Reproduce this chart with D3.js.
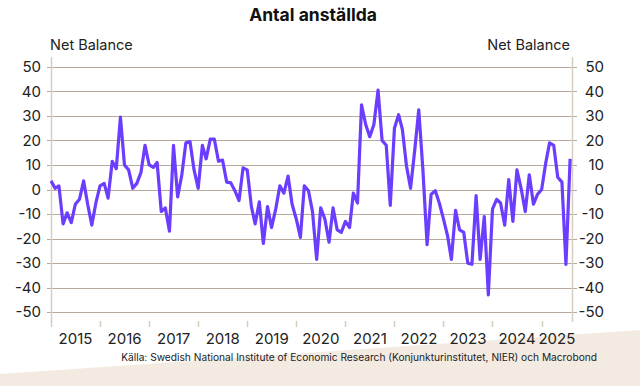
<!DOCTYPE html>
<html><head><meta charset="utf-8">
<script src="https://cdn.jsdelivr.net/npm/d3@7"></script>
<style>
html,body{margin:0;padding:0;background:#fff;}
svg{display:block;font-family:Inter,"Noto Sans",sans-serif;}
</style></head>
<body><svg id="c" width="640" height="386"></svg>
<script>
const title = "Antal anställda";
const yLabel = "Net Balance";
const source = "Källa: Swedish National Institute of Economic Research (Konjunkturinstitutet, NIER)  och Macrobond";
const startYear = 2015, startMonth = 0;
const values = [
  3.5, 0.5, 1.5, -14, -9.5, -13.5, -6, -4, 3.5, -6, -14.5, -5.5,
  1.5, 2.5, -3.5, 11.5, 8.5, 29.5, 10, 8, 0.5, 2.5, 7, 18,
  10, 9, 11, -9, -7.5, -17, 18, -3, 6, 19, 19.5, 8,
  0.5, 18, 12.5, 20.5, 20.5, 11.5, 12, 3, 2.7, -0.5, -4.5, 8.8,
  8, -7, -14, -5, -22, -7, -15.5, -8, 1.5, -1.5, 5.5, -6,
  -12, -19.5, 1.5, -0.5, -9, -28.5, -7.5, -12, -21.5, -7.5, -16.5, -17.5,
  -13, -15.5, -1.5, -5.5, 34.5, 26.5, 21.5, 26.5, 40.5, 20, 18, -6.5,
  25, 30.5, 24.5, 9.5, 0.5, 16, 32.5, 8, -22.5, -2, -0.5, -5.5,
  -12, -19, -28.5, -8.5, -16.5, -17.5, -30, -30.5, -2.5, -28.5, -11, -43,
  -8, -4, -5.5, -14.5, 4, -13, 8, 0.5, -9, 6, -6, -2,
  0, 11, 19, 18, 5, 3, -30.5, 12.5
];
const yTicks = [50, 40, 30, 20, 10, 0, -10, -20, -30, -40, -50];
const yearLabels = ["2015","2016","2017","2018","2019","2020","2021","2022","2023","2024","2025"];

const data = values.map((v,i)=>({date:new Date(startYear, startMonth+i, 1), value:v}));

const svg = d3.select("#c");
const L = 51, R = 572, T = 57, B = 322;
const x = d3.scaleTime().domain([new Date(2015,0,1), new Date(2025,7,15)]).range([L, R]);
const y = d3.scaleLinear().domain([-54, 54]).range([B, T]);

// background beige band
svg.append("polygon").attr("points", "0,374 640,330 640,386 0,386").attr("fill", "#f3ebe2");

// title
svg.append("text").attr("x", 313).attr("y", 21).attr("text-anchor","middle")
  .attr("font-size", 17.5).attr("font-weight", 700).attr("fill","#111").text(title);
svg.append("text").attr("x", 50).attr("y", 50).attr("font-size", 14.5).attr("fill","#222").text(yLabel);
svg.append("text").attr("x", 570).attr("y", 50).attr("text-anchor","end").attr("font-size", 14.5).attr("fill","#222").text(yLabel);

// gridlines
svg.append("g").selectAll("line").data(yTicks).join("line")
  .attr("x1", L-4).attr("x2", R+5)
  .attr("y1", d=>Math.round(y(d))+0.5).attr("y2", d=>Math.round(y(d))+0.5)
  .attr("stroke", "#b5aa9b").attr("stroke-width", 1.1);

// vertical axis lines
[L, R].forEach(px=>{
  svg.append("line").attr("x1", px+0.5).attr("x2", px+0.5).attr("y1", T).attr("y2", B)
    .attr("stroke", "#d6cdc1").attr("stroke-width", 1.5);
});

// y tick labels
const yl = svg.append("g").attr("font-size", 15).attr("fill", "#222");
yl.selectAll("text.l").data(yTicks).join("text").attr("class","l")
  .attr("x", 41).attr("y", d=>y(d)).attr("dy","0.35em").attr("text-anchor","end").text(d=>d);
yl.selectAll("text.r").data(yTicks).join("text").attr("class","r")
  .attr("x", 604).attr("y", d=>y(d)).attr("dy","0.35em").attr("text-anchor","end").text(d=>d);

// x axis ticks
const yearStarts = yearLabels.map(s=>new Date(+s,0,1));
svg.append("g").selectAll("line").data(yearStarts).join("line")
  .attr("x1", d=>Math.round(x(d))+0.5).attr("x2", d=>Math.round(x(d))+0.5)
  .attr("y1", B-1).attr("y2", B+5).attr("stroke", "#d6cdc1").attr("stroke-width", 1.5);
svg.append("g").attr("font-size", 15).attr("fill","#222").selectAll("text").data(yearLabels).join("text")
  .attr("x", d=>{ const a = x(new Date(+d,0,1)); const b = Math.min(x(new Date(+d+1,0,1)), R); return (a+b)/2; })
  .attr("y", 344).attr("text-anchor","middle").text(d=>d);

// line
const line = d3.line().x(d=>x(d.date)).y(d=>y(d.value));
svg.append("path").datum(data).attr("d", line).attr("fill","none")
  .attr("stroke", "#6a3dff").attr("stroke-width", 3.2).attr("stroke-linejoin","round");

// source
svg.append("text").attr("x", 597).attr("y", 361).attr("text-anchor","end")
  .attr("font-size", 10.2).attr("fill","#222").text(source);
</script></body></html>
